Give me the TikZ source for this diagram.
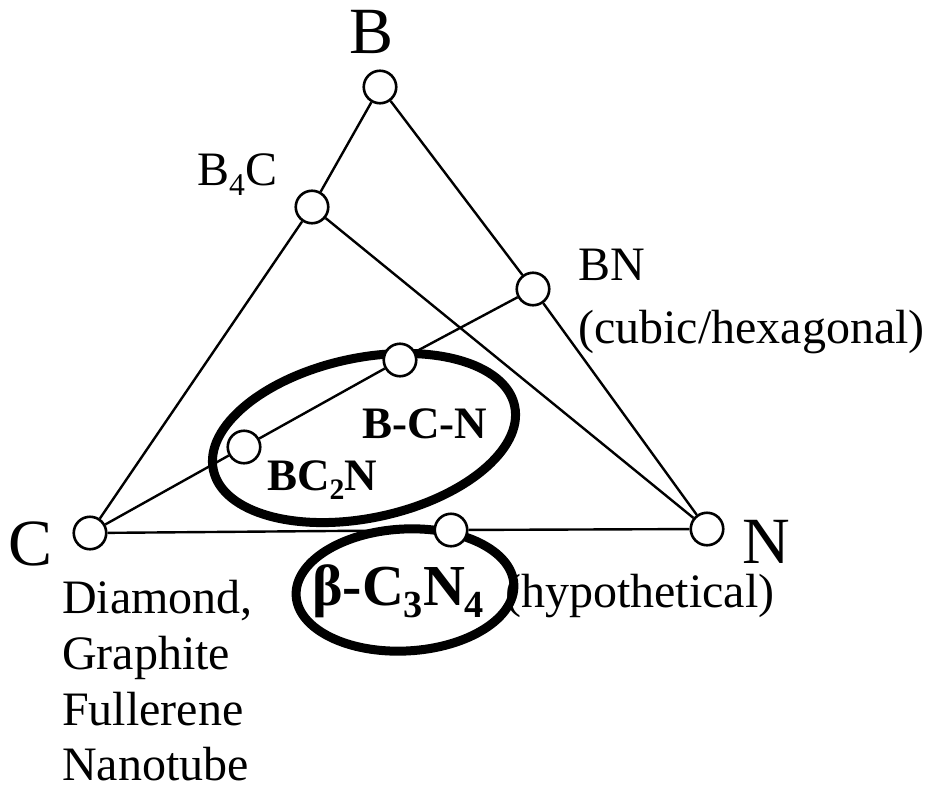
\documentclass[tikz,border=0pt]{standalone}
\usepackage{fontspec}
\setmainfont{Liberation Serif}
\usepackage{graphicx}
\usetikzlibrary{backgrounds}
\newcommand{\lsub}[1]{\raisebox{-0.22em}{\scalebox{0.66}{#1}}}
\begin{document}
\begin{tikzpicture}[x=1pt,y=-1pt,
  pt/.style={circle,draw,fill=white,line width=2.6pt,minimum size=32.5pt,inner sep=0pt},
  edge/.style={line width=2.4pt},
  ring/.style={line width=9pt},
  lab/.style={font=\fontsize{48}{56}\selectfont,inner sep=0pt,anchor=base west},
  biglab/.style={font=\fontsize{66}{70}\selectfont,inner sep=0pt,anchor=base},
  boldlab/.style={font=\fontsize{45}{50}\selectfont\bfseries,inner sep=0pt,anchor=base west},
  hugebold/.style={font=\fontsize{58}{62}\selectfont\bfseries,inner sep=0pt,anchor=base west}
]
\useasboundingbox (0,0) rectangle (937,790);
% points
\node[pt] (B) at (380,87) {};
\node[pt] (C) at (90,533) {};
\node[pt] (N) at (707,529) {};
\node[pt] (B4C) at (312,207) {};
\node[pt] (BN) at (533,289) {};
\node[pt] (BCN) at (400,360) {};
\node[pt] (BC2N) at (244,447) {};
\node[pt] (C3N4) at (451,530) {};
% connectors
\draw[edge] (B) -- (B4C);
\draw[edge] (B4C) -- (C);
\draw[edge] (B) -- (BN);
\draw[edge] (BN) -- (N);
\draw[edge] (C) -- (C3N4);
\draw[edge] (C3N4) -- (N);
\draw[edge] (B4C) -- (N);
\draw[edge] (C) -- (BC2N);
\draw[edge] (BC2N) -- (BCN);
\draw[edge] (BCN) -- (BN);
% rings
\begin{scope}[on background layer]
\coordinate (e1) at (364,438);
\coordinate (e2) at (405,590);
\draw[ring,rotate around={12:(e1)}] (e1) ellipse [x radius=154, y radius=80];
\draw[ring,rotate around={3:(e2)}] (e2) ellipse [x radius=109, y radius=61];
\end{scope}
% labels
\node[biglab] (tB) at (372,53) {B};
\node[biglab] (tC) at (31,565) {C};
\node[biglab] (tN) at (766,563) {N};
\node[lab] (tB4C) at (197,185) {B\lsub{4}C};
\node[lab] (tBN) at (578,280) {BN};
\node[lab] (tcub) at (578,343) {(cubic/hexagonal)};
\node[lab] (td) at (62,613) {Diamond,};
\node[lab] (tg) at (62,669) {Graphite};
\node[lab] (tf) at (62,725) {Fullerene};
\node[lab] (tnt) at (62,780) {Nanotube};
\node[boldlab] (tbcn) at (362,438) {B-C-N};
\node[boldlab] (tbc2n) at (267,490) {BC\lsub{2}N};
\node[hugebold] (tc3n4) at (312,605) {β-C\lsub{3}N\lsub{4}};
\node[lab] (thyp) at (505,607) {(hypothetical)};
\end{tikzpicture}
\end{document}
